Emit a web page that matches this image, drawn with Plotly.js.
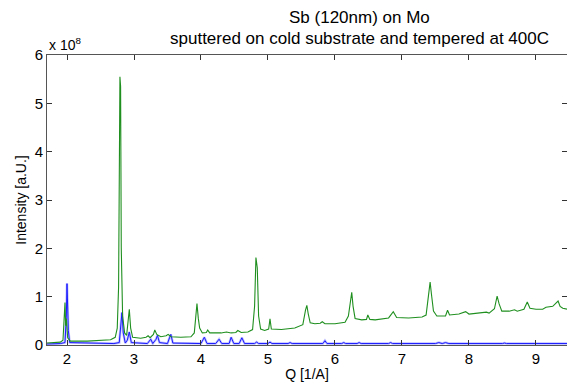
<!DOCTYPE html>
<html>
<head>
<meta charset="utf-8">
<script src="https://cdn.plot.ly/plotly-3.0.1.min.js"></script>
<style>html,body{margin:0;padding:0;background:#fff;}#chart{width:567px;height:386px;}</style>
</head>
<body>
<div id="chart"></div>
<script>
// Values in units of 1e8 (a.U.)
const greenQ = [1.70,1.80,1.90,1.94,1.96,1.97,1.98,1.99,2.01,2.05,2.30,2.50,2.65,2.72,2.75,2.77,2.78,2.79,2.80,2.81,2.83,2.86,2.89,2.91,2.93,2.95,2.98,3.10,3.18,3.21,3.24,3.29,3.31,3.34,3.40,3.48,3.51,3.55,3.70,3.85,3.90,3.92,3.94,3.96,3.98,4.02,4.08,4.10,4.13,4.30,4.38,4.45,4.52,4.55,4.60,4.70,4.77,4.80,4.82,4.84,4.86,4.89,4.95,5.01,5.03,5.05,5.20,5.40,5.52,5.56,5.58,5.60,5.63,5.70,5.78,5.81,5.85,6.00,6.15,6.20,6.23,6.25,6.27,6.30,6.40,6.47,6.49,6.52,6.60,6.80,6.87,6.92,7.10,7.30,7.36,7.40,7.42,7.44,7.47,7.52,7.65,7.68,7.71,7.85,7.95,8.00,8.20,8.26,8.30,8.38,8.42,8.45,8.49,8.60,8.68,8.72,8.82,8.87,8.91,9.00,9.10,9.15,9.25,9.30,9.33,9.36,9.40,9.47];
const greenI = [0.04,0.05,0.06,0.10,0.50,0.88,0.40,0.55,0.15,0.08,0.08,0.09,0.11,0.16,0.35,1.20,3.50,5.55,5.35,2.00,0.60,0.25,0.20,0.45,0.74,0.35,0.16,0.14,0.16,0.19,0.15,0.22,0.31,0.22,0.17,0.19,0.22,0.17,0.16,0.17,0.25,0.55,0.86,0.55,0.35,0.25,0.26,0.31,0.25,0.25,0.27,0.25,0.26,0.30,0.26,0.27,0.32,0.80,1.81,1.60,0.60,0.33,0.30,0.33,0.54,0.33,0.32,0.35,0.42,0.72,0.82,0.65,0.46,0.44,0.45,0.48,0.44,0.44,0.47,0.60,0.95,1.09,0.80,0.55,0.52,0.53,0.62,0.53,0.52,0.56,0.69,0.57,0.56,0.58,0.62,1.05,1.30,1.05,0.70,0.60,0.60,0.72,0.62,0.64,0.69,0.64,0.66,0.68,0.66,0.75,1.01,0.85,0.70,0.70,0.73,0.70,0.74,0.89,0.76,0.74,0.74,0.78,0.80,0.88,0.91,0.80,0.76,0.74];

const blueQ = [1.70,1.90,1.97,1.99,2.00,2.01,2.02,2.04,2.70,2.78,2.80,2.82,2.84,2.87,2.90,2.93,2.96,3.20,3.25,3.28,3.33,3.35,3.38,3.50,3.53,3.55,3.58,4.00,4.05,4.09,4.22,4.27,4.31,4.42,4.45,4.49,4.57,4.61,4.65,4.80,4.83,4.86,5.00,5.03,5.06,5.30,5.33,5.36,5.82,5.85,5.88,6.10,6.13,6.16,6.33,6.36,6.39,6.80,6.83,6.86,7.00,7.50,7.55,7.60,7.65,7.70,8.50,8.53,8.56,8.85,8.88,8.91,9.47];
const blueI = [0.02,0.03,0.05,0.60,1.27,0.90,0.30,0.05,0.03,0.05,0.35,0.67,0.25,0.04,0.10,0.27,0.05,0.03,0.12,0.03,0.12,0.20,0.05,0.03,0.15,0.22,0.04,0.03,0.16,0.03,0.03,0.12,0.03,0.03,0.16,0.03,0.03,0.15,0.03,0.03,0.06,0.03,0.03,0.06,0.03,0.03,0.05,0.03,0.03,0.09,0.03,0.03,0.05,0.03,0.03,0.05,0.03,0.03,0.05,0.03,0.03,0.03,0.05,0.03,0.05,0.03,0.03,0.04,0.03,0.03,0.04,0.03,0.03];

const xTicks = [2,3,4,5,6,7,8,9];
const yTicks = [0,1,2,3,4,5,6];
const titleLines = ['Sb (120nm) on Mo', 'sputtered on cold substrate and tempered at 400C'];

const font = 'Liberation Sans, Arial, Helvetica, sans-serif';

const traces = [
  {x: blueQ, y: blueI, mode: 'lines', line: {color: 'rgba(150,150,255,0.6)', width: 2.5}, hoverinfo: 'skip', showlegend: false},
  {x: blueQ, y: blueI, mode: 'lines', line: {color: '#1a1aff', width: 1}, showlegend: false},
  {x: greenQ, y: greenI, mode: 'lines', line: {color: '#1f8f1f', width: 1.1}, showlegend: false}
];

const axisCommon = {
  showgrid: false, zeroline: false, showline: true, linecolor: '#555', linewidth: 1,
  mirror: 'ticks', ticks: 'inside', ticklen: 5, tickcolor: '#333', tickwidth: 1,
  tickfont: {family: font, size: 15, color: '#000'}
};

const layout = {
  width: 567, height: 386,
  margin: {l: 47, r: 0, t: 55, b: 41, pad: 0},
  paper_bgcolor: '#fff', plot_bgcolor: '#fff',
  xaxis: Object.assign({}, axisCommon, {range: [1.7015, 9.463], tickvals: xTicks, ticktext: xTicks.map(String),
          title: {text: 'Q [1/A]', font: {family: font, size: 14, color: '#000'}, standoff: 3}}),
  yaxis: Object.assign({}, axisCommon, {range: [0, 6], tickvals: yTicks, ticktext: yTicks.map(String),
          title: {text: 'Intensity [a.U.]', font: {family: font, size: 14, color: '#000'}, standoff: 4}}),
  annotations: [
    {text: 'x 10<sup>8</sup>', xref: 'paper', yref: 'paper', x: 0, y: 1, xanchor: 'left', yanchor: 'bottom',
     showarrow: false, font: {family: font, size: 14, color: '#000'}},
    {text: titleLines[0], xref: 'paper', yref: 'paper', x: (359 - 47) / 520, y: 1, yshift: 26,
     xanchor: 'center', yanchor: 'bottom', showarrow: false, font: {family: font, size: 17, color: '#000'}},
    {text: titleLines[1], xref: 'paper', yref: 'paper', x: (359 - 47) / 520, y: 1, yshift: 5,
     xanchor: 'center', yanchor: 'bottom', showarrow: false, font: {family: font, size: 17, color: '#000'}}
  ]
};

Plotly.newPlot('chart', traces, layout, {displayModeBar: false, staticPlot: true});
</script>
</body>
</html>
